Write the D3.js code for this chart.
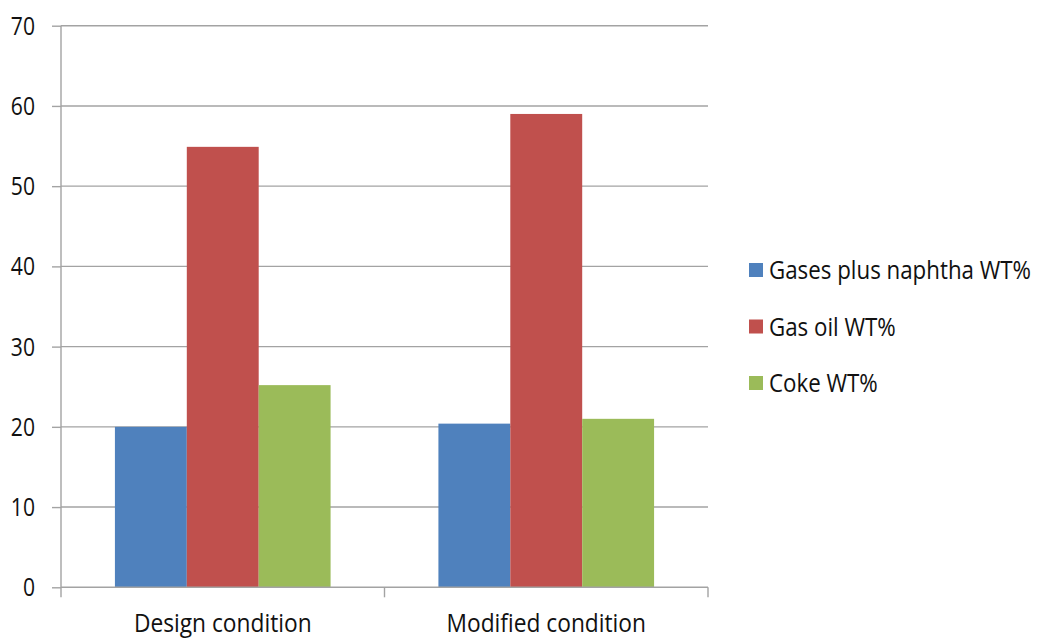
<!DOCTYPE html>
<html>
<head>
<meta charset="utf-8">
<script src="https://cdn.jsdelivr.net/npm/d3@7"></script>
<style>
  html, body { margin: 0; padding: 0; background: #ffffff; }
  svg text { font-family: "Open Sans", "Noto Sans", sans-serif; fill: #111111; }
</style>
</head>
<body>
<svg id="chart" width="1037" height="639"></svg>
<script>
// Product yields by operating condition
const categories = ["Design condition", "Modified condition"];
const seriesNames = ["Gases plus naphtha WT%", "Gas oil WT%", "Coke WT%"];
const gasesNaphtha = [20.0, 20.4];
const gasOil = [54.9, 59.0];
const coke = [25.2, 21.0];
const yTicks = [0, 10, 20, 30, 40, 50, 60, 70];

const seriesValues = [gasesNaphtha, gasOil, coke];
const colors = ["#4F81BD", "#C0504D", "#9BBB59"];

const svg = d3.select("#chart");
const plot = { left: 61, right: 708, top: 25.7, bottom: 587.3 };

const y = d3.scaleLinear().domain([0, 70]).range([plot.bottom, plot.top]);
const x0 = d3.scaleBand().domain(categories).range([plot.left, plot.right]).paddingInner(0).paddingOuter(0);
// three bars plus a 150% gap per category
const barW = x0.bandwidth() / 4.5;
const x1 = d3.scaleBand().domain(seriesNames).range([0, barW * 3]).padding(0);

const gridColor = "#a3a3a3";

// horizontal gridlines
svg.append("g")
  .selectAll("line")
  .data(yTicks.filter(t => t > 0))
  .join("line")
  .attr("x1", plot.left).attr("x2", plot.right)
  .attr("y1", d => y(d)).attr("y2", d => y(d))
  .attr("stroke", gridColor).attr("stroke-width", 1.4);

// y axis
const yAxis = svg.append("g")
  .attr("transform", `translate(${plot.left},0)`)
  .call(d3.axisLeft(y).tickValues(yTicks).tickSize(9).tickPadding(0).tickFormat(d3.format("d")));
yAxis.select(".domain").remove();
yAxis.append("line").attr("x1", 0).attr("x2", 0).attr("y1", plot.top).attr("y2", plot.bottom + 10)
  .attr("stroke", gridColor).attr("stroke-width", 1.4);
yAxis.selectAll(".tick line").attr("stroke", gridColor).attr("stroke-width", 1.4);
yAxis.selectAll(".tick text").remove();
yAxis.selectAll(".tick").append("text")
  .attr("text-anchor", "end")
  .attr("font-size", 24)
  .attr("transform", "translate(-26,8.5) scale(0.88,1.05)")
  .text(d => d);

// bars
const groups = svg.append("g")
  .selectAll("g")
  .data(categories)
  .join("g")
  .attr("transform", d => `translate(${x0(d) + barW * 0.75},0)`);

groups.selectAll("rect")
  .data((c, ci) => seriesNames.map((s, si) => ({ s, si, v: seriesValues[si][ci] })))
  .join("rect")
  .attr("x", d => x1(d.s))
  .attr("width", x1.bandwidth())
  .attr("y", d => y(d.v))
  .attr("height", d => y(0) - y(d.v))
  .attr("fill", d => colors[d.si]);

// x axis baseline and category ticks
const xg = svg.append("g");
xg.append("line").attr("x1", plot.left).attr("x2", plot.right)
  .attr("y1", plot.bottom).attr("y2", plot.bottom)
  .attr("stroke", gridColor).attr("stroke-width", 1.4);
const boundaries = categories.map(c => x0(c)).concat([x0(categories[categories.length - 1]) + x0.bandwidth()]);
xg.selectAll("line.tk").data(boundaries.slice(1)).join("line").attr("class", "tk")
  .attr("x1", d => d).attr("x2", d => d)
  .attr("y1", plot.bottom).attr("y2", plot.bottom + 10)
  .attr("stroke", gridColor).attr("stroke-width", 1.4);
xg.selectAll("text").data(categories).join("text")
  .attr("text-anchor", "middle")
  .attr("font-size", 25)
  .attr("transform", d => `translate(${x0(d) + x0.bandwidth() / 2},632) scale(0.91,1.02)`)
  .text(d => d);

// legend
const legend = svg.append("g").attr("transform", "translate(749,270)");
const items = legend.selectAll("g").data(seriesNames).join("g")
  .attr("transform", (d, i) => `translate(0,${i * 56.5})`);
items.append("rect").attr("x", 0).attr("y", -7).attr("width", 14).attr("height", 14)
  .attr("fill", (d, i) => colors[i]);
items.append("text")
  .attr("font-size", 24)
  .attr("transform", "translate(20,9) scale(0.93,1.04)")
  .text(d => d);
</script>
</body>
</html>
